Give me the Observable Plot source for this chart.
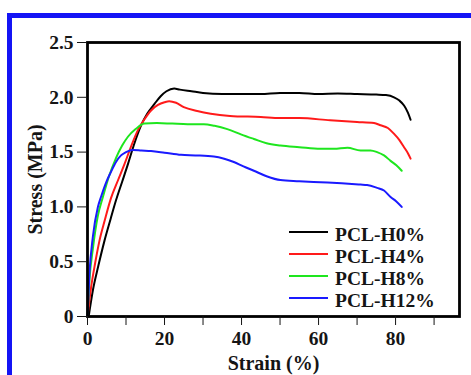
<!DOCTYPE html>
<html>
<head>
<meta charset="utf-8">
<script src="https://cdn.jsdelivr.net/npm/d3@7"></script>
<script src="https://cdn.jsdelivr.net/npm/@observablehq/plot@0.6"></script>
<style>
  html, body { margin: 0; padding: 0; background: #fff; overflow: hidden; }
  #wrap { position: relative; width: 471px; height: 375px; overflow: hidden; }
  #border { position: absolute; left: 7px; top: 13px; width: 600px; height: 600px;
            border-left: 5px solid #1414f5; border-top: 5px solid #1414f5; box-sizing: border-box; }
  #chart { position: absolute; left: 0; top: 0; }
  #legend { position: absolute; left: 289px; top: 224px; font-family: "Liberation Serif", serif;
            font-weight: bold; font-size: 19.5px; color: #151515; }
  .row { display: flex; align-items: center; height: 22px; }
  .sw { display: inline-block; width: 39px; height: 2.5px; margin-right: 7px; position: relative; top: -3px; }
</style>
</head>
<body>
<div id="wrap">
  <div id="border"></div>
  <div id="chart"></div>
  <div id="legend"></div>
</div>
<script>
const seriesNames = ["PCL-H0%", "PCL-H4%", "PCL-H8%", "PCL-H12%"];
const seriesColors = ["#000000", "#ff1a1a", "#1ee61e", "#1a1aff"];

const h0Strain = [0.3, 1.4, 2.8, 4.4, 6, 7.4, 9, 10.5, 12, 14, 15.5, 17.4, 19, 20.5, 22.5, 24, 27, 30, 35, 40, 45, 50, 55, 60, 65, 70, 75, 77.5, 79.6, 81, 82.2, 83.2, 83.9];
const h0Stress = [0, 0.24, 0.46, 0.69, 0.89, 1.06, 1.23, 1.39, 1.56, 1.75, 1.85, 1.94, 2.01, 2.055, 2.08, 2.07, 2.055, 2.04, 2.03, 2.03, 2.03, 2.04, 2.04, 2.03, 2.035, 2.03, 2.025, 2.02, 2.0, 1.97, 1.925, 1.86, 1.795];

const h4Strain = [0, 0.95, 2, 3.1, 4.5, 6.1, 8, 9.6, 11.3, 13.1, 14.8, 16.5, 18.3, 20, 21.2, 23, 25, 28.5, 32, 37, 45, 50, 55, 63, 70, 74.4, 76.1, 78, 79.6, 81, 82.2, 83.2, 83.9];
const h4Stress = [0, 0.27, 0.49, 0.69, 0.88, 1.08, 1.25, 1.39, 1.55, 1.70, 1.80, 1.88, 1.93, 1.955, 1.965, 1.95, 1.91, 1.875, 1.85, 1.83, 1.82, 1.81, 1.81, 1.79, 1.775, 1.765, 1.745, 1.72, 1.667, 1.61, 1.545, 1.49, 1.44];

const h8Strain = [0, 0.5, 1.4, 2.7, 4, 5.5, 7.45, 9, 10.5, 12.5, 14.8, 18, 22, 26, 30.2, 33, 36.3, 40, 43.2, 46.5, 50.1, 55, 60.5, 64, 67.5, 70.9, 73.5, 75.2, 77, 78.7, 80.2, 81.6];
const h8Stress = [0, 0.33, 0.62, 0.92, 1.09, 1.27, 1.45, 1.56, 1.64, 1.71, 1.76, 1.765, 1.76, 1.755, 1.755, 1.74, 1.71, 1.66, 1.62, 1.58, 1.56, 1.545, 1.53, 1.53, 1.54, 1.515, 1.515, 1.5, 1.47, 1.42, 1.38, 1.33];

const h12Strain = [0, 0.5, 1.4, 2.7, 3.5, 4.8, 6.1, 7.4, 8.7, 10, 11.8, 14, 16.5, 20, 24.3, 28, 32.8, 35.5, 38, 40.5, 43.2, 46.5, 50.1, 55, 60.5, 66, 70.9, 72.6, 75.2, 77, 78.7, 80.2, 81.6];
const h12Stress = [0, 0.39, 0.73, 1.0, 1.09, 1.22, 1.32, 1.41, 1.47, 1.5, 1.52, 1.515, 1.51, 1.495, 1.475, 1.47, 1.46, 1.44, 1.41, 1.37, 1.33, 1.28, 1.245, 1.235, 1.225, 1.215, 1.204, 1.2, 1.174, 1.15, 1.09, 1.05, 1.0];

const xTicks = [0, 10, 20, 30, 40, 50, 60, 70, 80, 90];
const xTickLabels = ["0", "", "20", "", "40", "", "60", "", "80", ""];
const yTicks = [0, 0.5, 1.0, 1.5, 2.0, 2.5];
const yTickLabels = ["0", "0.5", "1.0", "1.5", "2.0", "2.5"];

const allStrain = [h0Strain, h4Strain, h8Strain, h12Strain];
const allStress = [h0Stress, h4Stress, h8Stress, h12Stress];
const rows = [];
seriesNames.forEach((name, i) => {
  allStrain[i].forEach((x, j) => rows.push({series: name, strain: x, stress: allStress[i][j]}));
});

const font = "'Liberation Serif', 'Times New Roman', serif";
const chart = Plot.plot({
  width: 471,
  height: 375,
  marginLeft: 87,
  marginTop: 42,
  marginRight: 12,
  marginBottom: 59,
  style: {fontFamily: font, fontWeight: "bold", fontSize: "19.5px", color: "#151515", background: "transparent", overflow: "visible"},
  x: {domain: [0, 96.6]},
  y: {domain: [0, 2.5]},
  color: {domain: seriesNames, range: seriesColors},
  marks: [
    Plot.line(rows, {x: "strain", y: "stress", stroke: "series", z: "series", strokeWidth: 2, curve: "monotone-x"}),
    Plot.frame({stroke: "#000", strokeWidth: 2.8}),
    Plot.axisX({ticks: xTicks, tickFormat: d => xTickLabels[xTicks.indexOf(d)], tickSize: 9, tickWidth: 2.5, tickPadding: 6,
      fontSize: 19.5, fontWeight: "bold", label: null}),
    Plot.axisX({ticks: [], label: "Strain (%)", labelAnchor: "center", labelOffset: 53, labelArrow: "none", fontSize: 20, fontWeight: "bold"}),
    Plot.axisY({ticks: yTicks, tickFormat: d => yTickLabels[yTicks.indexOf(d)], tickSize: 10, tickWidth: 2.5, tickPadding: 4,
      fontSize: 19.5, fontWeight: "bold", label: null}),
    Plot.axisY({ticks: [], label: "Stress (MPa)", labelAnchor: "center", labelOffset: 60, labelArrow: "none", fontSize: 20, fontWeight: "bold"})
  ]
});
document.getElementById("chart").appendChild(chart);

const legend = document.getElementById("legend");
seriesNames.forEach((name, i) => {
  const r = document.createElement("div");
  r.className = "row";
  const sw = document.createElement("span");
  sw.className = "sw";
  sw.style.background = seriesColors[i];
  const t = document.createElement("span");
  t.textContent = name;
  r.appendChild(sw);
  r.appendChild(t);
  legend.appendChild(r);
});
</script>
</body>
</html>
